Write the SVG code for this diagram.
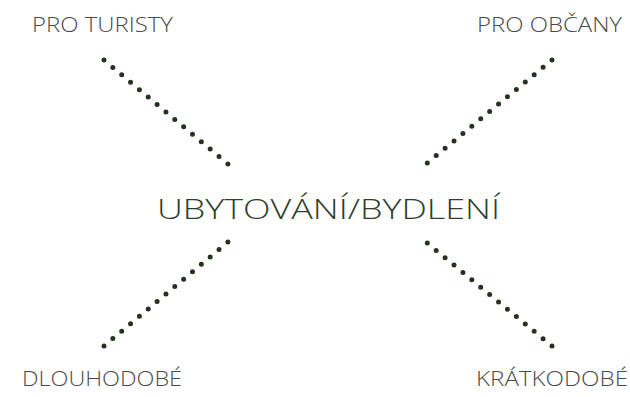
<svg xmlns="http://www.w3.org/2000/svg" width="630" height="397" viewBox="0 0 630 397">
<style>
.lbl{font-family:"Open Sans","Noto Sans","Liberation Sans",sans-serif;font-weight:300;font-size:20px;fill:#4a4a4a;}
.ctr{font-family:"Open Sans","Noto Sans","Liberation Sans",sans-serif;font-weight:300;font-size:27px;fill:#2f3d2b;}
.dot{stroke:#24321f;stroke-width:5;stroke-linecap:round;stroke-dasharray:0 11.55;fill:none;}
</style>
<rect width="630" height="397" fill="#ffffff"/>
<g id="connectors">
<path class="dot" d="M104,60 L228,164"/>
<path class="dot" d="M552,60 L426,164"/>
<path class="dot" d="M104,346 L228,242"/>
<path class="dot" d="M552,346 L426,242"/>
</g>
<g id="center"><text class="ctr" x="157" y="219" textLength="343" lengthAdjust="spacingAndGlyphs">UBYTOVÁNÍ/BYDLENÍ</text></g>
<g id="pro-turisty"><text class="lbl" x="32" y="32" textLength="141" lengthAdjust="spacingAndGlyphs">PRO TURISTY</text></g>
<g id="pro-obcany"><text class="lbl" x="477" y="32" textLength="145" lengthAdjust="spacingAndGlyphs">PRO OBČANY</text></g>
<g id="dlouhodobe"><text class="lbl" x="22" y="386" textLength="160" lengthAdjust="spacingAndGlyphs">DLOUHODOBÉ</text></g>
<g id="kratkodobe"><text class="lbl" x="476" y="386" textLength="152" lengthAdjust="spacingAndGlyphs">KRÁTKODOBÉ</text></g>
</svg>
